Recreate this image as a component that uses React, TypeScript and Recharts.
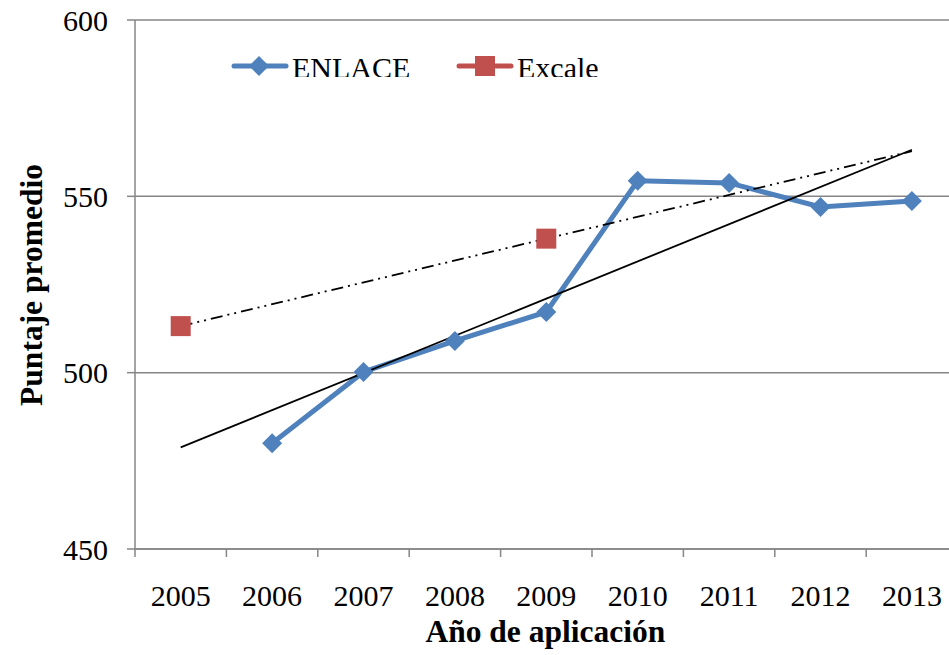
import { LineChart, Line, XAxis, YAxis, CartesianGrid, Legend } from 'recharts';

// Puntaje promedio ENLACE vs Excale, 2005-2013
const years = [2005, 2006, 2007, 2008, 2009, 2010, 2011, 2012, 2013];
const enlace = [null, 480, 500.2, 509, 517.2, 554.4, 553.8, 547, 548.7];
const excale = [513.2, null, null, null, 538, null, null, null, null];
// linear trend lines, only the two end values are shown
const enlaceTrend = [478.8, null, null, null, null, null, null, null, 563.2];
const excaleTrend = [513.2, null, null, null, null, null, null, null, 562.8];
const yTicks = [450, 500, 550, 600];
const boundaries = [2004.5, 2005.5, 2006.5, 2007.5, 2008.5, 2009.5, 2010.5, 2011.5, 2012.5, 2013.5];

const data = years.map((year, i) => ({
  year,
  enlace: enlace[i],
  excale: excale[i],
  enlaceTrend: enlaceTrend[i],
  excaleTrend: excaleTrend[i],
}));

const BLUE = '#4F81BD';
const RED = '#C0504D';
const AXIS = '#868686';
const FONT = '"Liberation Serif", "Times New Roman", serif';

const Diamond = ({ cx, cy }: any) => {
  if (cx == null || cy == null) return null;
  const r = 10;
  return <polygon points={`${cx},${cy - r} ${cx + r},${cy} ${cx},${cy + r} ${cx - r},${cy}`} fill={BLUE} />;
};

const Square = ({ cx, cy }: any) => {
  if (cx == null || cy == null) return null;
  return <rect x={cx - 10} y={cy - 10} width={20} height={20} fill={RED} />;
};

const YearTick = ({ x, y, payload }: any) => {
  if (Number.isInteger(payload.value)) {
    return (
      <text x={x} y={y + 57} textAnchor="middle" fontFamily={FONT} fontSize={30} fill="#000">
        {payload.value}
      </text>
    );
  }
  return <line x1={x} x2={x} y1={y} y2={y + 8} stroke={AXIS} strokeWidth={1.5} />;
};

const XTitle = ({ viewBox }: any) => (
  <text x={viewBox.x + viewBox.width / 2 - 1} y={642} textAnchor="middle" fontFamily={FONT} fontSize={31.5} fontWeight="bold" fill="#000">
    Año de aplicación
  </text>
);

const YTitle = () => (
  <text x={0} y={0} transform="translate(42, 285) rotate(-90)" textAnchor="middle" fontFamily={FONT} fontSize={31.5} fontWeight="bold" fill="#000">
    Puntaje promedio
  </text>
);

const LegendBox = () => (
  <svg width={420} height={29} style={{ display: 'block' }}>
    <line x1={14} x2={66} y1={18} y2={18} stroke={BLUE} strokeWidth={5} strokeLinecap="round" />
    <Diamond cx={39} cy={18} />
    <text x={72} y={30} fontFamily={FONT} fontSize={30} fill="#000">ENLACE</text>
    <line x1={239} x2={291} y1={18} y2={18} stroke={RED} strokeWidth={5} strokeLinecap="round" />
    <rect x={255} y={8} width={20} height={20} fill={RED} />
    <text x={297} y={30} fontFamily={FONT} fontSize={30} fill="#000">Excale</text>
  </svg>
);

export default function App() {
  return (
    <div style={{ position: 'absolute', left: 0, top: 0, width: 949, height: 655, overflow: 'hidden', background: '#fff' }}>
      <LineChart width={960} height={655} data={data} margin={{ top: 20, right: 2.4, bottom: 0, left: 0 }}>
        <CartesianGrid horizontal vertical={false} stroke={AXIS} strokeWidth={1.5} />
        <XAxis
          dataKey="year"
          type="number"
          domain={[2004.5, 2013.5]}
          ticks={[...boundaries, ...years].sort((a, b) => a - b)}
          interval={0}
          height={106}
          tickSize={0}
          tickMargin={0}
          tickLine={false}
          tick={<YearTick />}
          axisLine={{ stroke: AXIS, strokeWidth: 1.5 }}
          label={<XTitle />}
        />
        <YAxis
          domain={[450, 600]}
          ticks={yTicks}
          width={135}
          tickSize={8}
          tickMargin={19}
          tickLine={{ stroke: AXIS, strokeWidth: 1.5 }}
          axisLine={{ stroke: AXIS, strokeWidth: 1.5 }}
          tick={{ fontFamily: FONT, fontSize: 30, fill: '#000' }}
          label={<YTitle />}
        />
        <Legend
          layout="horizontal"
          verticalAlign="middle"
          align="center"
          content={() => <LegendBox />}
          wrapperStyle={{ position: 'absolute', left: 220, top: 48, width: 420, height: 29, overflow: 'hidden' }}
        />
        <Line dataKey="enlace" stroke={BLUE} strokeWidth={5} dot={<Diamond />} activeDot={false} isAnimationActive={false} />
        <Line dataKey="excale" stroke={RED} strokeWidth={5} dot={<Square />} activeDot={false} isAnimationActive={false} />
        <Line dataKey="enlaceTrend" stroke="#000" strokeWidth={1.8} dot={false} activeDot={false} connectNulls legendType="none" isAnimationActive={false} />
        <Line dataKey="excaleTrend" stroke="#000" strokeWidth={1.8} strokeDasharray="12 5 2 5 2 5" dot={false} activeDot={false} connectNulls legendType="none" isAnimationActive={false} />
      </LineChart>
    </div>
  );
}
